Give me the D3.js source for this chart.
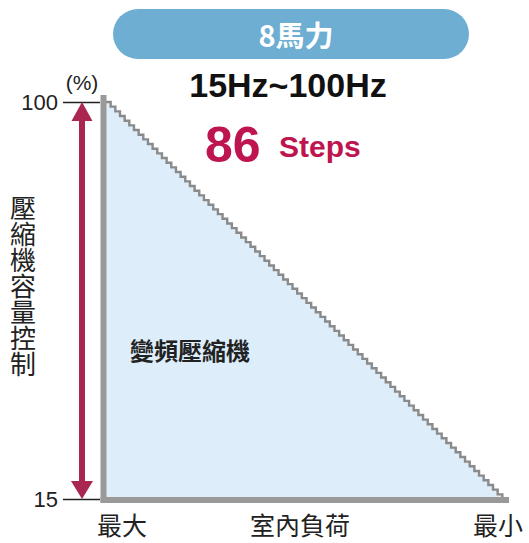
<!DOCTYPE html>
<html>
<head>
<meta charset="utf-8">
<script src="https://cdn.jsdelivr.net/npm/d3@7/dist/d3.min.js"></script>
<style>
  html, body { margin: 0; padding: 0; background: #fff; }
  svg { display: block; }
  text { font-family: "Liberation Sans", Arial, "Noto Sans CJK TC", sans-serif; }
  .cjk { font-family: "Noto Sans CJK TC", "Noto Sans CJK SC", sans-serif; }
</style>
</head>
<body>
<svg id="chart" width="529" height="543"></svg>
<script>
// Compressor capacity levels (%), one per inverter step, from full load down to minimum
const capacitySteps = [
  100, 99, 98, 97, 96, 95, 94, 93, 92, 91,
  90, 89, 88, 87, 86, 85, 84, 83, 82, 81,
  80, 79, 78, 77, 76, 75, 74, 73, 72, 71,
  70, 69, 68, 67, 66, 65, 64, 63, 62, 61,
  60, 59, 58, 57, 56, 55, 54, 53, 52, 51,
  50, 49, 48, 47, 46, 45, 44, 43, 42, 41,
  40, 39, 38, 37, 36, 35, 34, 33, 32, 31,
  30, 29, 28, 27, 26, 25, 24, 23, 22, 21,
  20, 19, 18, 17, 16, 15
];
const yTicks = [15, 100];
const xCategories = ["最大", "室內負荷", "最小"];
const yTitle = "壓縮機容量控制";
const unitLabel = "(%)";
const badgeText = "8馬力";
const freqText = "15Hz~100Hz";
const stepCountText = "86";
const stepWord = "Steps";
const areaLabel = "變頻壓縮機";

const svg = d3.select("#chart");

const plotLeft = 106, plotRight = 507, plotTop = 102, plotBottom = 499;
const x = d3.scaleLinear().domain([0, capacitySteps.length]).range([plotLeft, plotRight]);
const y = d3.scaleLinear().domain([d3.min(yTicks), d3.max(yTicks)]).range([plotBottom, plotTop]);

// staircase points: each level holds for one step width
const pts = capacitySteps.map((v, i) => [i, v]);
pts.push([capacitySteps.length, capacitySteps[capacitySteps.length - 1]]);

// header badge
svg.append("rect")
  .attr("x", 113).attr("y", 9).attr("width", 356).attr("height", 50)
  .attr("rx", 25).attr("fill", "#6eaed2");
svg.append("text").attr("class", "cjk")
  .attr("x", 296).attr("y", 47).attr("text-anchor", "middle")
  .attr("font-size", 29).attr("font-weight", "bold").attr("fill", "#fff")
  .text(badgeText);

svg.append("text")
  .attr("x", 288).attr("y", 97).attr("text-anchor", "middle")
  .attr("font-size", 34).attr("font-weight", "bold").attr("fill", "#111")
  .text(freqText);

svg.append("text")
  .attr("x", 205).attr("y", 162)
  .attr("font-size", 50).attr("font-weight", "bold").attr("fill", "#be1450")
  .text(stepCountText);
svg.append("text")
  .attr("x", 279).attr("y", 157)
  .attr("font-size", 30).attr("font-weight", "bold").attr("fill", "#be1450")
  .text(stepWord);

// filled region under the staircase
const area = d3.area()
  .x(d => x(d[0]))
  .y0(y(15))
  .y1(d => y(d[1]))
  .curve(d3.curveStepAfter);
svg.append("path").datum(pts)
  .attr("d", area)
  .attr("fill", "#ddeefa");

const line = d3.line()
  .x(d => x(d[0]))
  .y(d => y(d[1]))
  .curve(d3.curveStepAfter);
svg.append("path").datum(pts)
  .attr("d", line)
  .attr("fill", "none")
  .attr("stroke", "#8a8a8a")
  .attr("stroke-width", 2.4);

// axes frame (thick grey)
svg.append("line")
  .attr("x1", plotLeft - 2.5).attr("x2", plotLeft - 2.5)
  .attr("y1", y(100) - 7).attr("y2", y(15) + 3)
  .attr("stroke", "#999").attr("stroke-width", 6);
svg.append("line")
  .attr("x1", plotLeft - 5.5).attr("x2", plotRight + 2)
  .attr("y1", y(15) + 1).attr("y2", y(15) + 1)
  .attr("stroke", "#999").attr("stroke-width", 6);

// y ticks
const yAxis = d3.axisLeft(y).tickValues(yTicks).tickSize(37).tickPadding(5);
const yAxisG = svg.append("g").attr("transform", `translate(${plotLeft - 6},0)`).call(yAxis);
yAxisG.select(".domain").remove();
yAxisG.selectAll(".tick line").attr("stroke", "#222").attr("stroke-width", 1.6);
yAxisG.selectAll(".tick text")
  .attr("font-family", "Liberation Sans, Arial, sans-serif")
  .attr("font-size", 22).attr("fill", "#222");

svg.append("text")
  .attr("x", 82).attr("y", 90).attr("text-anchor", "middle")
  .attr("font-size", 21).attr("fill", "#222")
  .text(unitLabel);

// double-headed arrow for capacity range
const arrowX = 82;
svg.append("line")
  .attr("x1", arrowX).attr("x2", arrowX)
  .attr("y1", y(100) + 15).attr("y2", y(15) - 15)
  .attr("stroke", "#a92650").attr("stroke-width", 6);
svg.append("path")
  .attr("d", `M${arrowX},${y(100)} L${arrowX - 10.5},${y(100) + 19} L${arrowX + 10.5},${y(100) + 19} Z`)
  .attr("fill", "#a92650");
svg.append("path")
  .attr("d", `M${arrowX},${y(15)} L${arrowX - 11},${y(15) - 18} L${arrowX + 11},${y(15) - 18} Z`)
  .attr("fill", "#a92650");

// vertical y title, set upright in a vertical writing mode
svg.append("text").attr("class", "cjk")
  .attr("x", 23).attr("y", 195)
  .attr("writing-mode", "vertical-rl")
  .style("text-orientation", "upright")
  .attr("font-size", 26).attr("fill", "#222")
  .text(yTitle);

// x category labels
const xPos = d3.scalePoint().domain(xCategories).range([122, 498]);
svg.selectAll(".xcat").data(xCategories).enter().append("text")
  .attr("class", "cjk")
  .attr("x", d => d === "室內負荷" ? 300 : xPos(d))
  .attr("y", 535)
  .attr("text-anchor", "middle")
  .attr("font-size", 25).attr("fill", "#222")
  .text(d => d);

svg.append("text").attr("class", "cjk")
  .attr("x", 130).attr("y", 360)
  .attr("font-size", 24).attr("font-weight", "bold").attr("fill", "#222")
  .text(areaLabel);
</script>
</body>
</html>
